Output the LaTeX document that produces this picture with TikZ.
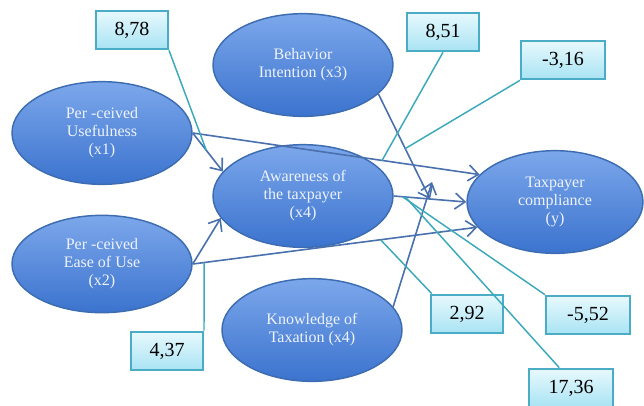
\documentclass[tikz,border=0pt]{standalone}
\usepackage{fontspec}
\setmainfont{Liberation Serif}
\usepackage{tikz}
\usetikzlibrary{positioning}
\usetikzlibrary{shapes.geometric}
\usetikzlibrary{arrows.meta}

\definecolor{ovalline}{HTML}{3D6DB0}
\definecolor{ovaltop}{HTML}{7CA7EB}
\definecolor{ovalbot}{HTML}{3B73CE}
\definecolor{ovaltext}{HTML}{EEF3FB}
\definecolor{arrowblue}{HTML}{4A70AE}
\definecolor{tealline}{HTML}{3BA9BB}
\definecolor{boxline}{HTML}{4BACC6}
\definecolor{boxtop}{HTML}{E8F9FD}
\definecolor{boxbot}{HTML}{A8E3F3}

\begin{document}
\begin{tikzpicture}[x=0.75pt, y=-0.75pt,
    var/.style={ellipse, draw=ovalline, line width=1.1pt, top color=ovaltop, bottom color=ovalbot,
        text=ovaltext, align=center, font=\fontsize{12}{13.5}\selectfont,
        minimum width=135pt, minimum height=77pt, inner sep=0pt},
    coef/.style={rectangle, draw=boxline, line width=1.5pt, top color=boxtop, bottom color=boxbot,
        font=\fontsize{15}{17}\selectfont, minimum width=54pt, minimum height=29pt},
    coefwide/.style={coef, minimum width=63pt},
    path/.style={draw=arrowblue, line width=1.2pt, -{Straight Barb[length=7.5pt,width=12pt]}},
    lead/.style={draw=tealline, line width=1.1pt}]

\useasboundingbox (0,0) rectangle (644,405);

% Variables
\node[var] (x1) at (102,133) {Per -ceived\\Usefulness\\(x1)};
\node[var, minimum height=73pt] (x2) at (102,264) {Per -ceived\\Ease of Use\\(x2)};
\node[var] (x3) at (303,65) {Behavior\\Intention (x3)};
\node[var] (x4) at (303,196) {Awareness of\\the taxpayer\\(x4)};
\node[var] (x5) at (312,330) {Knowledge of\\Taxation (x4)};
\node[var, minimum width=132pt] (y) at (555,202) {Taxpayer\\compliance\\(y)};

% Paths between variables
\draw[path] (x1.east) -- coordinate[pos=0.45] (c1) (x4.163);
\draw[path] (x1.east) -- coordinate[pos=0.66] (c2) (y.160);
\draw[path] (x2.east) -- (x4.195);
\draw[path] (x2.east) -- coordinate[pos=0.04] (c3) coordinate[pos=0.66] (c4) (y.198);
\draw[path] (x4.east) -- coordinate[pos=0.12] (c5) coordinate[pos=0.16] (c6) coordinate[pos=0.5] (m) (y.west);

% Moderating paths
\coordinate (mk) at (432,182);
\draw[path] (x3.-21) -- coordinate[pos=0.52] (c7) (m);
\draw[path] (x5.16) -- (mk);

% Coefficients
\node[coef] (w1) at (132,30) {8,78};
\node[coef] (w2) at (167,351) {4,37};
\node[coef] (w3) at (443,32) {8,51};
\node[coefwide] (w4) at (563,60) {-3,16};
\node[coef] (w5) at (467,314) {2,92};
\node[coefwide] (w6) at (588,315) {-5,52};
\node[coefwide] (w7) at (571,388) {17,36};

% Leader lines
\draw[lead] (w1.south east) -- (c1);
\draw[lead] (w2.north east) -- (c3);
\draw[lead] (w3.south) -- (c2);
\draw[lead] (w4.south west) -- (c7);
\draw[lead] (w5.150) -- (c4);
\draw[lead] (w6.north west) -- (c5);
\draw[lead] (w7.120) -- (c6);

\end{tikzpicture}
\end{document}
